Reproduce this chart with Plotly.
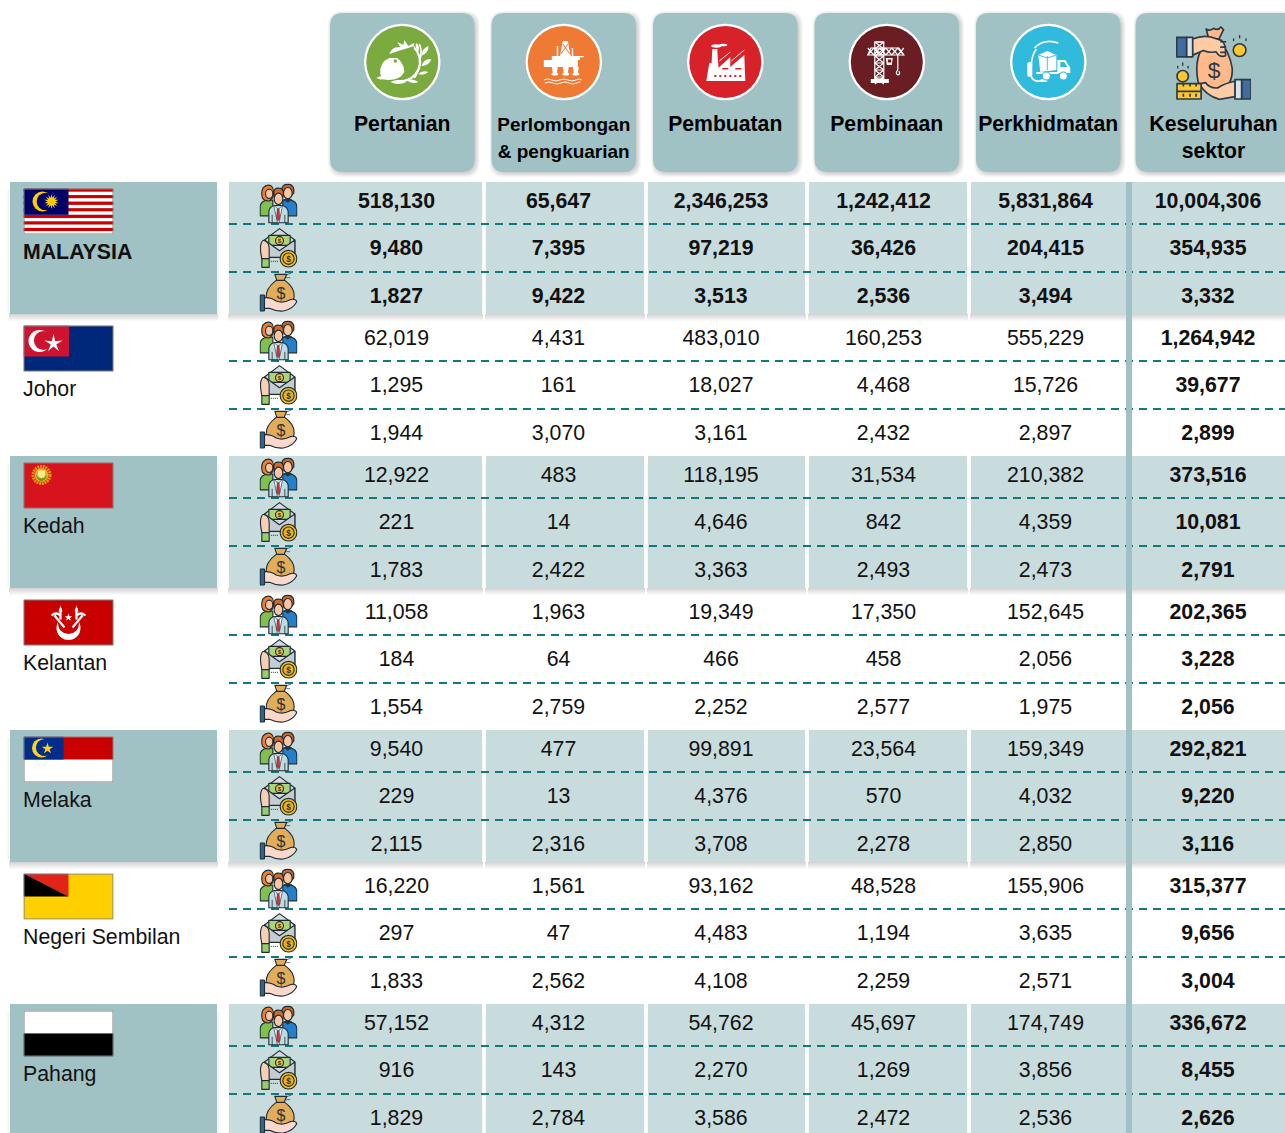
import base64, math
import plotly.graph_objects as go

W, H = 1285, 1133

# ---------- data ----------
sectors = [["Pertanian"], ["Perlombongan", "& pengkuarian"], ["Pembuatan"], ["Pembinaan"], ["Perkhidmatan"], ["Keseluruhan", "sektor"]]
states = ["MALAYSIA", "Johor", "Kedah", "Kelantan", "Melaka", "Negeri Sembilan", "Pahang"]

malaysia = [[518130, 65647, 2346253, 1242412, 5831864, 10004306],
            [9480, 7395, 97219, 36426, 204415, 354935],
            [1827, 9422, 3513, 2536, 3494, 3332]]
johor = [[62019, 4431, 483010, 160253, 555229, 1264942],
         [1295, 161, 18027, 4468, 15726, 39677],
         [1944, 3070, 3161, 2432, 2897, 2899]]
kedah = [[12922, 483, 118195, 31534, 210382, 373516],
         [221, 14, 4646, 842, 4359, 10081],
         [1783, 2422, 3363, 2493, 2473, 2791]]
kelantan = [[11058, 1963, 19349, 17350, 152645, 202365],
            [184, 64, 466, 458, 2056, 3228],
            [1554, 2759, 2252, 2577, 1975, 2056]]
melaka = [[9540, 477, 99891, 23564, 159349, 292821],
          [229, 13, 4376, 570, 4032, 9220],
          [2115, 2316, 3708, 2278, 2850, 3116]]
negeri_sembilan = [[16220, 1561, 93162, 48528, 155906, 315377],
                   [297, 47, 4483, 1194, 3635, 9656],
                   [1833, 2562, 4108, 2259, 2571, 3004]]
pahang = [[57152, 4312, 54762, 45697, 174749, 336672],
          [916, 143, 2270, 1269, 3856, 8455],
          [1829, 2784, 3586, 2472, 2536, 2626]]
table = [malaysia, johor, kedah, kelantan, melaka, negeri_sembilan, pahang]

# ---------- layout constants ----------
FONT = "Liberation Sans"
PANEL = "#A0C2C5"
BAND = "#C8DBDD"
DASH = "#127A7D"
TXT = "#111111"
TOP, PITCH, BAND_H = 182, 137, 132
ROW_Y = [20.5, 67.5, 115.5]
DASH_Y = [42, 90]
COL_X = [396.5, 558.5, 721, 883.5, 1045.5, 1208]
CELLS = [(229, 482), (486, 644), (648, 805), (809, 967), (971, 1126), (1132, 1290)]
HEAD = [(330, 474.5), (491.5, 636), (653, 797.5), (814.5, 959), (976, 1120.5), (1135.5, 1295)]
CIRC_X = [402.3, 563.8, 725.3, 886.8, 1048.3]
CIRC = ["#7BAA3F", "#EF7A34", "#D72229", "#6A1E24", "#30BBDD"]


def uri(body, vw, vh):
    svg = f'<svg xmlns="http://www.w3.org/2000/svg" viewBox="0 0 {vw} {vh}" width="{vw*4}" height="{vh*4}">{body}</svg>'
    return "data:image/svg+xml;base64," + base64.b64encode(svg.encode()).decode()


def star(cx, cy, R, r, n, rot=-90):
    pts = []
    for i in range(2 * n):
        a = math.radians(rot + i * 180 / n)
        q = R if i % 2 == 0 else r
        pts.append(f"{cx+q*math.cos(a):.2f},{cy+q*math.sin(a):.2f}")
    return " ".join(pts)


# ---------- flags (90 x 46) ----------
def flag(body):
    return uri(body + '<rect x="0.5" y="0.5" width="89" height="45" fill="none" stroke="#7f7f7f" stroke-width="1"/>', 90, 46)


stripes = "".join(f'<rect y="{i*46/14:.3f}" width="90" height="{46/14:.3f}" fill="{"#CC0000" if i%2==0 else "#fff"}"/>' for i in range(14))
f_my = flag(stripes + '<rect width="45" height="26.3" fill="#010066"/><circle cx="19" cy="13" r="10" fill="#FFCC00"/><circle cx="22" cy="13" r="8.8" fill="#010066"/>'
            f'<polygon points="{star(28,13,7.5,3.8,14)}" fill="#FFCC00"/>')
f_jo = flag('<rect width="90" height="46" fill="#00287A"/><rect width="45.5" height="31" fill="#CE1330"/><circle cx="16" cy="15.5" r="11" fill="#fff"/><circle cx="20" cy="15" r="9.6" fill="#CE1330"/>'
            f'<polygon points="{star(30,18,9.5,2.9,5)}" fill="#fff"/>')
f_ke = flag('<rect width="90" height="46" fill="#D7141E"/><circle cx="18" cy="12.5" r="8.4" fill="none" stroke="#E8901A" stroke-width="3.2" stroke-dasharray="2 0.7"/>'
            '<circle cx="18" cy="12.5" r="6.8" fill="#F2B02A"/><path d="M12.5 11 Q13 18 18 18.5 Q23 18 23.5 11 Q22 16 18 16 Q14 16 12.5 11Z" fill="#5C9A2E"/>'
            '<path d="M14.5 8 H21.5 V12 Q21 15 18 15.5 Q15 15 14.5 12Z" fill="#F8EE8A"/>')
f_kn = flag('<rect width="90" height="46" fill="#C80000"/><circle cx="45" cy="28.5" r="12" fill="#fff"/><circle cx="45" cy="24" r="10.5" fill="#C80000"/>'
            f'<polygon points="{star(45,18,4,1.6,5)}" fill="#fff"/>'
            '<g stroke="#fff" stroke-width="2.2" fill="none"><path d="M31 16 L41 28"/><path d="M59 16 L49 28"/><path d="M28 16 Q33 12 37 16"/><path d="M62 16 Q57 12 53 16"/><path d="M37 9 V20"/><path d="M53 9 V20"/></g>'
            '<polygon points="37,6 39,12 35,12" fill="#fff"/><polygon points="53,6 55,12 51,12" fill="#fff"/>')
f_me = flag('<rect width="90" height="46" fill="#fff"/><rect width="90" height="23" fill="#C80000"/><rect width="40" height="23" fill="#002C8A"/><circle cx="18" cy="11.5" r="9.5" fill="#FFD21C"/><circle cx="21" cy="11" r="8.6" fill="#002C8A"/>'
            f'<polygon points="{star(24,12,6,2.3,5)}" fill="#FFD21C"/>')
f_ns = flag('<rect width="90" height="46" fill="#FFCF00"/><polygon points="0,0 45,0 45,23" fill="#E2231A"/><polygon points="0,0 45,23 0,23" fill="#000"/>')
f_pa = flag('<rect width="90" height="23" fill="#fff"/><rect y="23" width="90" height="23" fill="#000"/>')
flags = [f_my, f_jo, f_ke, f_kn, f_me, f_ns, f_pa]

# ---------- row icons (38 x 40 displayed, drawn on 114 x 120) ----------
OUT = 'stroke="#1F2C33" stroke-width="3.4" stroke-linejoin="round"'
people = uri(f'''
<path d="M2 97 V68 Q4 54 22 50 H40 V97 Z" fill="#7FC04E" {OUT}/>
<path d="M112 97 V68 Q110 54 94 50 H70 V97 Z" fill="#2480CC" {OUT}/>
<path d="M9 44 Q4 28 10 14 Q22 0 36 8 Q46 18 40 42 L30 52 Q16 54 9 44Z" fill="#F07F2C" {OUT}/>
<ellipse cx="29" cy="31" rx="11" ry="14" fill="#F9C6A2" {OUT}/>
<path d="M67 26 Q64 2 86 2 Q106 4 103 28 L98 34 H72Z" fill="#C8642E" {OUT}/>
<ellipse cx="85" cy="29" rx="13" ry="17" fill="#F9C6A2" {OUT}/>
<path d="M72 48 L85 58 L98 48 L86 44Z" fill="#26343C"/>
<path d="M28 118 V84 Q30 70 44 66 H68 Q84 70 86 84 V118 Z" fill="#BFDCE2" {OUT}/>
<path d="M43 26 Q44 12 58 14 Q72 14 72 30 L70 42 H45Z" fill="#D06A2C" {OUT}/>
<ellipse cx="57" cy="46" rx="13" ry="17" fill="#F9C6A2" {OUT}/>
<path d="M44 66 L56 78 L68 66 L68 72 L58 118 H54 L44 72Z" fill="#fff" stroke="#26343C" stroke-width="2"/>
<polygon points="53,76 59,76 61,104 56,112 51,104" fill="#D6303A" stroke="#26343C" stroke-width="1.5"/>
<path d="M38 94 V118 M76 94 V118" stroke="#26343C" stroke-width="2.5"/>
''', 114, 120)
envelope = uri(f'''
<path d="M15 36 L60 2 L106 36 V88 H15Z" fill="#D3DAE0" {OUT}/>
<rect x="28" y="22" width="64" height="30" fill="#A9D47A" {OUT}/>
<circle cx="60" cy="38" r="12" fill="#EFC13C" {OUT}/>
<text x="60" y="45" font-size="18" font-weight="bold" text-anchor="middle" fill="#26343C" font-family="Liberation Sans">$</text>
<path d="M15 36 L60 68 L106 36 V88 H15Z" fill="#C4CCD4" {OUT}/>
<path d="M7 92 Q0 62 5 46 Q9 34 16 38 Q28 42 29 60 V92Z" fill="#F6CFB4" {OUT}/>
<rect x="7" y="92" width="22" height="26" fill="#97CE6A" {OUT}/>
<path d="M34 100 H58" stroke="#26343C" stroke-width="3" stroke-dasharray="3 3"/>
<circle cx="87" cy="92" r="25" fill="#F2C21C" {OUT}/>
<circle cx="87" cy="92" r="17" fill="#EDB21D" {OUT}/>
<text x="87" y="101" font-size="25" font-weight="bold" text-anchor="middle" fill="#26343C" font-family="Liberation Sans">$</text>
''', 114, 120)
bag = uri(f'''
<path d="M50 22 Q18 46 20 74 Q24 98 60 98 Q102 98 104 70 Q106 44 76 22Z" fill="#E3AC58" {OUT}/>
<path d="M46 4 L82 4 L74 22 H52Z" fill="#E3AC58" {OUT}/>
<path d="M78 6 L96 0 M80 14 L92 14" stroke="#26343C" stroke-width="2"/>
<text x="64" y="78" font-size="48" text-anchor="middle" fill="#26343C" font-family="Liberation Sans">$</text>
<path d="M14 74 Q34 72 50 84 Q70 92 92 80 Q108 76 112 86 Q100 108 72 114 Q50 116 30 106 H14Z" fill="#FBD8CC" {OUT}/>
<rect x="2" y="66" width="13" height="48" rx="2" fill="#2F6690" {OUT}/>
''', 114, 120)
row_icons = [people, envelope, bag]

# ---------- sector icons (76 x 76) ----------
agri = uri('''
<path d="M16 50 Q15 38 25 34 L33 34 Q40 40 40 48 Q36 56 24 56 Q18 56 16 50Z" fill="#fff"/>
<path d="M25 30 Q28 22 36 23 L33 18 L39 21 L40 16 L44 22 L50 19 Q48 25 52 28 Q58 40 50 50 Q44 56 36 56 L28 58 Q38 60 46 56 Q56 50 57 38 Q56 28 50 22" fill="#fff"/>
<path d="M28 34 Q32 24 42 27 Q50 32 50 42 Q48 50 40 53 Q46 44 42 37 Q36 30 28 34Z" fill="#7BAA3F"/>
<circle cx="31" cy="37" r="1.8" fill="#7BAA3F"/>
<path d="M12 54 Q18 50 24 54 Q18 57 12 54Z M26 58 Q34 54 42 58 Q34 62 26 58Z" fill="#fff"/>
<path d="M50 54 Q56 46 56 34 Q58 26 55 20" fill="none" stroke="#fff" stroke-width="1.6"/>
<path d="M54 28 Q50 22 52 19 Q56 22 54 28Z M57 32 Q58 24 64 22 Q65 28 57 32Z M57 42 Q60 34 67 35 Q65 42 57 42Z M54 50 Q58 46 64 48 Q60 52 54 50Z M42 56 Q48 54 54 58 Q48 61 42 56Z" fill="#fff"/>
''', 76, 76)
rig = uri('''
<g fill="#fff">
<polygon points="37,17 42,17 45,33 34,33"/><rect x="31" y="22" width="1.4" height="11"/><rect x="46" y="24" width="1.4" height="9"/>
<rect x="18" y="36" width="34" height="7"/><rect x="26" y="32" width="28" height="4"/><rect x="50" y="32" width="8" height="1.3"/>
<polygon points="26,43 32,43 31,49 27,49"/><polygon points="37,43 43,43 42,49 38,49"/><polygon points="47,43 53,43 52,49 48,49"/>
<ellipse cx="29" cy="50" rx="3.5" ry="1.6"/><ellipse cx="40" cy="50" rx="3.5" ry="1.6"/><ellipse cx="50" cy="50" rx="3.5" ry="1.6"/>
</g>
<g stroke="#EF7A34" stroke-width="1"><path d="M37 20 L44 30 M42 20 L35 30"/></g>
<g fill="none" stroke="#fff" stroke-width="1"><path d="M18 56 Q22 54 26 56 T34 56 T42 56 T50 56 T56 56"/><path d="M19 59 Q23 57 27 59 T35 59 T43 59 T51 59 T54 59"/></g>
''', 76, 76)
factory = uri('''
<g fill="#fff">
<ellipse cx="29" cy="22" rx="5" ry="1.7"/><ellipse cx="36" cy="21" rx="4" ry="1.3"/>
<polygon points="25,25 30,25 31,45 24,45"/>
<polygon points="19,57 22,39 31,39 31,44 43,33 43,43 57,31 58,57"/>
</g>
<g fill="#D72229"><rect x="35" y="44" width="6" height="1.5"/><rect x="48" y="44" width="6" height="1.5"/>
<rect x="27" y="51" width="2" height="2"/><rect x="32" y="51" width="2" height="2"/><rect x="37" y="51" width="2" height="2"/><rect x="42" y="51" width="2" height="2"/><rect x="47" y="51" width="2" height="2"/><rect x="52" y="51" width="2" height="2"/></g>
<g fill="none" stroke="#fff" stroke-width="0.9"><path d="M32 37 L43 28 M44 37 L57 26"/></g>
''', 76, 76)
lat = "".join(f'<path d="M26 {y} H35 M26 {y} L35 {y+7} M35 {y} L26 {y+7}"/>' for y in range(18, 55, 7))
jib = "".join(f'<path d="M{x} 24 L{x+6} 31 M{x+6} 24 L{x} 31"/>' for x in range(19, 54, 6))
crane = uri(f'''
<g fill="none" stroke="#fff" stroke-width="1.2">{lat}<rect x="26" y="18" width="9" height="37"/>{jib}<path d="M19 31 L22 24 H50 L55 31 Z"/>
<path d="M49 31 V46"/><path d="M49 46 Q46 49 49 51 Q52 50 50 47" /></g>
<rect x="22" y="55" width="18" height="4" fill="#fff"/>
<polygon points="37,34 44,34 43,41 38,41" fill="#fff"/><rect x="39" y="35.5" width="3.5" height="3" fill="#6A1E24"/>
''', 76, 76)
truck = uri('''
<g fill="none" stroke="#fff" stroke-width="1.6"><path d="M24 24 Q34 14 48 19"/><path d="M21 42 Q21 32 26 25"/><path d="M21 52 Q22 58 31 57"/></g>
<rect x="17" y="38" width="5" height="15" rx="2.5" fill="#fff"/><rect x="30" y="55" width="7" height="3" rx="1.5" fill="#fff"/>
<polygon points="28,31 37,27 46,31 46,46 30,48" fill="#fff"/>
<path d="M37 32 V46 M28 31 L37 34 L46 31" stroke="#30BBDD" stroke-width="0.9" fill="none"/>
<path d="M47 36 H55 L60 44 V49 H47Z" fill="#fff"/><rect x="26" y="48" width="22" height="2" fill="#fff"/>
<polygon points="50,38 54,38 57,43 50,43" fill="#30BBDD"/>
<circle cx="36" cy="52" r="4" fill="#fff" stroke="#30BBDD"/><circle cx="53" cy="52" r="4" fill="#fff" stroke="#30BBDD"/>
''', 76, 76)
D2 = 'stroke="#2D3A45" stroke-width="5" stroke-linejoin="round"'
money = uri(f'''
<g {D2}>
<path d="M90 12 Q100 20 112 10 Q126 18 134 6 L142 14 L128 42 H98Z" fill="#FFB98A"/>
<path d="M98 42 Q50 90 66 170 Q90 205 130 200 Q170 180 168 130 Q160 80 128 42Z" fill="#FFB98A"/>
<rect x="2" y="37" width="30" height="58" fill="#3F6E9E"/><rect x="32" y="37" width="18" height="58" fill="#D6E4EC"/>
<path d="M50 42 Q78 30 104 36 L136 46 Q150 56 148 92 Q130 98 120 80 Q100 84 82 76 L50 90Z" fill="#FFCBA4"/>
<path d="M132 50 H150 M132 66 H150 M132 82 H148" fill="none"/>
<rect x="196" y="163" width="28" height="58" fill="#3F6E9E"/><rect x="176" y="163" width="20" height="58" fill="#D6E4EC"/>
<path d="M176 168 Q150 172 124 188 Q100 190 88 172 L70 176 Q90 212 130 222 L176 214Z" fill="#FFCBA4"/>
<circle cx="190" cy="75" r="19" fill="#FFC72C"/>
<circle cx="20" cy="153" r="17" fill="#FFC72C"/>
<rect x="3" y="175" width="72" height="46" fill="#FFC72C"/>
<path d="M3 198 H75 M22 175 V184 M42 175 V184 M60 175 V184 M22 205 V214 M42 205 V214 M60 205 V214" fill="none"/>
</g>
<text x="114" y="158" font-size="68" text-anchor="middle" fill="#2D3A45" font-family="Liberation Sans">$</text>
<g fill="#2D3A45"><rect x="188" y="30" width="4" height="10"/><rect x="170" y="40" width="4" height="8"/><rect x="207" y="40" width="4" height="8"/>
<rect x="18" y="112" width="4" height="10"/><rect x="3" y="122" width="4" height="8"/><rect x="34" y="122" width="4" height="8"/></g>
''', 224, 224)
sector_icons = [agri, rig, factory, crane, truck]

# ---------- assemble ----------
shapes, images = [], []


def rect(x0, y0, x1, y1, fill):
    shapes.append(dict(type="rect", x0=x0, y0=y0, x1=x1, y1=y1, fillcolor=fill, line_width=0, layer="below"))


def shadow(x0, y0, x1, y1, side=4):
    # faint side glow, stronger fade below the block
    for e in range(side, 0, -1):
        rect(x0 - e, y0 + 8, x1 + e, y1, "rgba(0,0,0,0.012)")
    for e in range(7, 0, -1):
        rect(x0 - 1, y1, x1 + 1, y1 + e, "rgba(0,0,0,0.024)")


def rounded(x0, y0, x1, y1, r, fill):
    p = (f"M{x0+r},{y0} L{x1-r},{y0} Q{x1},{y0} {x1},{y0+r} L{x1},{y1-r} Q{x1},{y1} {x1-r},{y1} "
         f"L{x0+r},{y1} Q{x0},{y1} {x0},{y1-r} L{x0},{y0+r} Q{x0},{y0} {x0+r},{y0} Z")
    shapes.append(dict(type="path", path=p, fillcolor=fill, line_width=0, layer="below"))


def image(src, x, y, w, h):
    images.append(dict(source=src, xref="x", yref="y", x=x, y=y, sizex=w, sizey=h,
                       xanchor="left", yanchor="top", sizing="stretch", layer="above"))


# header cards
for i, (x0, x1) in enumerate(HEAD):
    for e in range(6, 0, -1):
        rounded(x0 - e + 4, 13 - e + 4, x1 + e - 1, 172 + e - 1, 14, "rgba(0,0,0,0.04)")
    rounded(x0, 13, x1, 172, 13, PANEL)
for cx, col, ic in zip(CIRC_X, CIRC, sector_icons):
    shapes.append(dict(type="circle", x0=cx - 38.3, x1=cx + 38.3, y0=23.7, y1=100.3, fillcolor="#fff", line_width=0, layer="below"))
    shapes.append(dict(type="circle", x0=cx - 36, x1=cx + 36, y0=26, y1=98, fillcolor=col, line_width=0, layer="below"))
    image(ic, cx - 38, 24, 76, 76)
image(money, 1176, 25, 75, 75)

# table
for s in range(len(states)):
    top = TOP + s * PITCH
    if s % 2 == 0:
        shadow(10, top, 217, top + BAND_H)
        rect(10, top, 217, top + BAND_H, PANEL)
        for x0, x1 in CELLS:
            shadow(x0, top, x1, top + BAND_H, side=2)
        for x0, x1 in CELLS:
            rect(x0, top, x1, top + BAND_H, BAND)
for s in range(len(states)):
    top = TOP + s * PITCH
    image(flags[s], 23.5, top + 6.5, 90, 46)
    for r in range(3):
        image(row_icons[r], 259.5, top + [1.5, 46, 91][r], 38, 40)
    for d in DASH_Y:
        shapes.append(dict(type="line", x0=229, x1=1290, y0=top + d, y1=top + d,
                           line=dict(color=DASH, width=2, dash="8px,6px"), layer="below"))
rect(1126, TOP, 1132, H + 5, PANEL)

fig = go.Figure()


def text_trace(x, y, text, size=21.3, bold=False, pos="middle center", color=TXT):
    fig.add_trace(go.Scatter(x=x, y=y, text=text, mode="text", textposition=pos, hoverinfo="skip", showlegend=False,
                             textfont=dict(family=FONT, size=size, color=color, weight="bold" if bold else "normal")))


# header labels
for i, lines in enumerate(sectors):
    cx = (HEAD[i][0] + HEAD[i][1]) / 2 if i < 5 else 1213.5
    for k, ln in enumerate(lines):
        text_trace([cx], [126 + 27 * k], [ln], size=19 if i == 1 else 21.2, bold=True, color="#000")

# state labels
for s, name in enumerate(states):
    text_trace([23], [TOP + s * PITCH + 72], [name], bold=s == 0, pos="middle right")

# values
for s, block in enumerate(table):
    top = TOP + s * PITCH
    for r, row in enumerate(block):
        fmt = [f"{v:,}" for v in row]
        y = top + ROW_Y[r]
        if s == 0:
            text_trace(COL_X, [y] * 6, fmt, bold=True)
        else:
            text_trace(COL_X[:5], [y] * 5, fmt[:5])
            text_trace(COL_X[5:], [y], fmt[5:], bold=True)

fig.update_layout(
    width=W, height=H, margin=dict(l=0, r=0, t=0, b=0), paper_bgcolor="#fff", plot_bgcolor="#fff",
    xaxis=dict(range=[0, W], visible=False, fixedrange=True),
    yaxis=dict(range=[H, 0], visible=False, fixedrange=True),
    shapes=shapes, images=images, showlegend=False, hovermode=False,
)
fig.write_html("out.html", config={"displayModeBar": False},
               post_script="document.body.style.margin='0';document.documentElement.style.overflow='hidden';")
